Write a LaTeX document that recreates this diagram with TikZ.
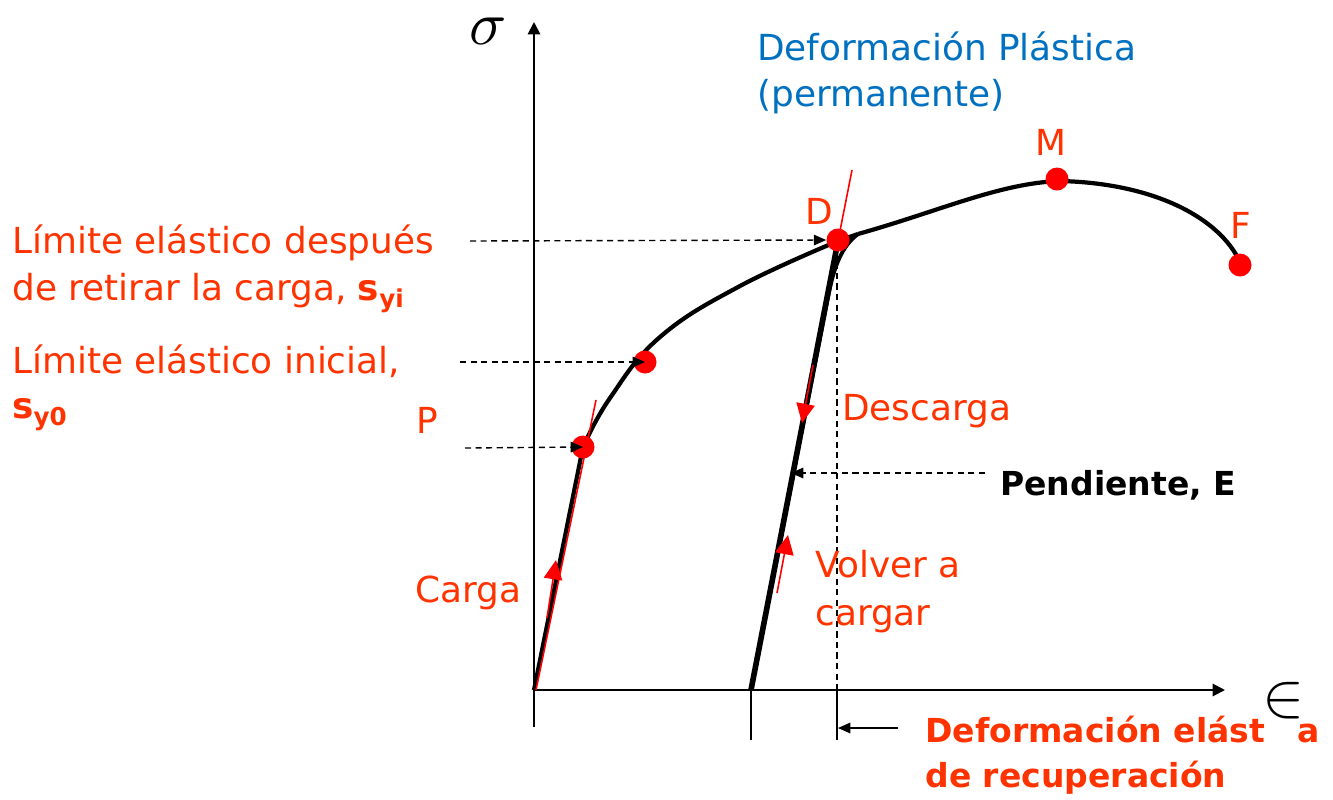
\documentclass[tikz,border=0pt]{standalone}
\usepackage{fontspec}
\setmainfont{DejaVu Sans}
\usetikzlibrary{arrows.meta}
\definecolor{labred}{HTML}{FF3300}
\definecolor{labblue}{HTML}{0070C0}
\definecolor{dotred}{HTML}{FF0000}
\begin{document}
\begin{tikzpicture}[x=0.02cm,y=-0.02cm,
  lab/.style={text=labred, anchor=base west, inner sep=0pt, font=\fontsize{20.4}{24}\selectfont},
  labb/.style={text=labred, anchor=base west, inner sep=0pt, font=\fontsize{18.8}{24}\selectfont\bfseries},
  bluelab/.style={text=labblue, anchor=base west, inner sep=0pt, font=\fontsize{20.4}{24}\selectfont},
  blacklab/.style={text=black, anchor=base west, inner sep=0pt, font=\fontsize{18.8}{24}\selectfont\bfseries},
  dot/.style={circle, fill=dotred, minimum size=0.46cm, inner sep=0pt},
  axis/.style={line width=1.1pt, -{Triangle[length=7pt,width=7pt]}},
  tickline/.style={line width=1.1pt},
  curve/.style={line width=2.4pt, line join=round},
  unload/.style={line width=3.2pt},
  dashline/.style={dash pattern=on 3.5pt off 2.5pt, line width=0.8pt},
  dasharr/.style={dashline, -{Triangle[length=7pt,width=6pt]}},
  solidarr/.style={line width=0.8pt, -{Triangle[length=7pt,width=6pt]}},
  redline/.style={draw=dotred, line width=0.9pt},
  redarr/.style={redline, -{Triangle[length=11pt,width=10.5pt,fill=dotred]}},
]
\useasboundingbox (0,0) rectangle (1333,799);

% key coordinates
\coordinate (O) at (534,690);
\coordinate (Ytop) at (534,22);
\coordinate (Ybot) at (534,727);
\coordinate (Xend) at (1225,690);
\coordinate (U) at (751,690);
\coordinate (Ut) at (751,740);
\coordinate (T2) at (837,690);
\coordinate (T2b) at (837,740);
\coordinate (K) at (858,234);
\coordinate (R1) at (828,297);
\coordinate (Pc) at (583,447);
\coordinate (Dc) at (838,241);
\coordinate (Mc) at (1060,181);
\coordinate (Fc) at (1238,258);

% axes
\draw[axis] (Ybot) -- (Ytop);
\draw[axis] (O) -- (Xend);
\draw[tickline] (U) -- (Ut);
\draw[tickline] (T2) -- (T2b);

% red line above D (behind the curves)
\coordinate (da1) at (852,170);
\draw[redline] (da1) -- (Dc);

% black curves
\draw[curve] (O) -- (Pc);
\draw[curve] plot[smooth, tension=0.7] coordinates {(583,447) (610,398) (660,337) (740,286) (838,241)};
\draw[curve] (Dc) -- (K);
\draw[curve] (K) .. controls (940,211) and (1000,183) .. (Mc)
                 .. controls (1150,183) and (1215,215) .. (Fc);
\draw[unload] (Dc) -- (U);
\draw[line width=2.2pt] (U) -- (R1) .. controls (834,266) and (842,246) .. (K);

% red tangent lines and arrows (on top)
\coordinate (O2) at (536,690);
\coordinate (Ptan) at (596,400);
\draw[redline] (O2) -- (Ptan);
\coordinate (ca1) at (547,618);
\coordinate (ca2) at (556,560);
\draw[redarr] (ca1) -- (ca2);
\coordinate (da3) at (813,365);
\coordinate (da2) at (802,423);
\draw[redarr] (da3) -- (da2);
\coordinate (ra1) at (777,593);
\coordinate (ra2) at (788,535);
\draw[redarr] (ra1) -- (ra2);

% points
\node[dot] (P) at (583,447) {};
\node[dot] (Y) at (645,362) {};
\node[dot] (D) at (838,240) {};
\node[dot] (M) at (1057,179) {};
\node[dot] (F) at (1240,265) {};

% dashed guides
\coordinate (d1) at (470,241);
\coordinate (d2) at (460,362);
\coordinate (d3) at (465,448);
\coordinate (e1) at (985,473);
\coordinate (Eu) at (791,473);
\draw[dasharr] (d1) -- (D.west);
\draw[dasharr] (d2) -- (Y.center);
\draw[dasharr] (d3) -- (P.center);
\draw[dasharr] (e1) -- (Eu);
\draw[dashline] (D.south -| T2) -- (T2);
\coordinate (w1) at (898,728);
\coordinate (w2) at (838,728);
\draw[solidarr] (w1) -- (w2);

% axis symbols
\node[scale=3.5, inner sep=0pt] (sig) at (488,31) {$\sigma$};
\node[scale=3.6, inner sep=0pt] (eps) at (1284,701) {$\in$};

% labels
\node[bluelab] (pl1) at (757,60) {Deformación Plástica};
\node[bluelab] (pl2) at (757,106) {(permanente)};
\node[lab] (lM) at (1035,155) {M};
\node[lab] (lD) at (805,224) {D};
\node[lab] (lF) at (1230,238) {F};
\node[lab] (lP) at (416,433) {P};
\node[lab] (t1) at (12,253) {Límite elástico después};
\node[lab] (t2) at (12,300) {de retirar la carga, \textbf{s}\raisebox{-0.4ex}{\fontsize{14}{14}\selectfont\bfseries yi}};
\node[lab] (t3) at (12,373) {Límite elástico inicial,};
\node[lab] (t4) at (12,418) {\textbf{s}\raisebox{-0.4ex}{\fontsize{14}{14}\selectfont\bfseries y0}};
\node[lab] (desc) at (842,420) {Descarga};
\node[blacklab] (pend) at (1000,495) {Pendiente, E};
\node[lab] (carga) at (415,602) {Carga};
\node[lab] (va1) at (815,577) {Volver a};
\node[lab] (va2) at (815,625) {cargar};
\node[labb] (de1) at (925,742) {Deformación elást};
\node[labb] (de1b) at (1297,742) {a};
\node[labb] (de2) at (925,787) {de recuperación};
\end{tikzpicture}
\end{document}
